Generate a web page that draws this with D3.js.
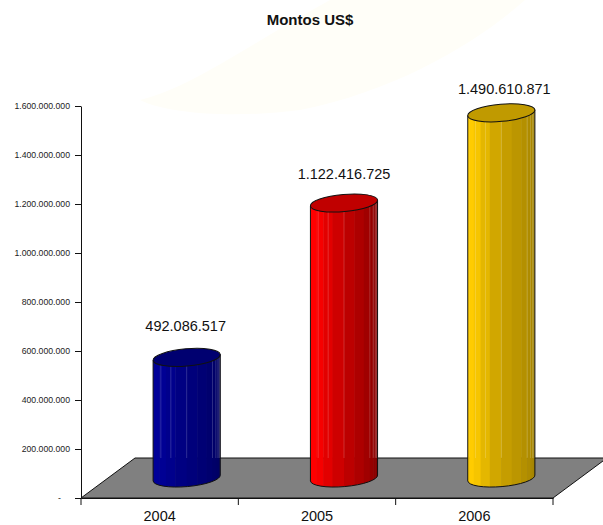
<!DOCTYPE html>
<html>
<head>
<meta charset="utf-8">
<script src="https://cdn.jsdelivr.net/npm/d3@7"></script>
<style>
html, body { margin: 0; padding: 0; background: #fff; }
svg { display: block; }
text { font-family: "Liberation Sans", Arial, sans-serif; fill: #111; }
</style>
</head>
<body>
<div id="chart-area"></div>
<script>
// data
var years = ["2004", "2005", "2006"];
var montos = [492086517, 1122416725, 1490610871];
var yTicks = [0, 200000000, 400000000, 600000000, 800000000, 1000000000, 1200000000, 1400000000, 1600000000];

// left, middle and right shade of the cylinder, then the lid
var bodyColors = [
    ["#000098", "#000080", "#00005c"],
    ["#ff0000", "#c80000", "#780000"],
    ["#ffcc00", "#cca300", "#9c7d00"]
];
var lidColors = ["#000070", "#c00000", "#c09a00"];
var labelLift = [51, 49, 44];
var labelShift = [-1, 0, 3];
// facet edges, in degrees around the front of the cylinder
var facetAngles = [-90, -72, -55, -38, -20, 0, 18, 36, 50, 60, 68, 75, 81, 86, 90];
var seamAngles = [-50, -28, 0, 50, 60, 68, 75, 81];

var width = 603, height = 525;
var margin = { left: 81, right: 50, top: 106, bottom: 27 };
var innerH = height - margin.top - margin.bottom;
var depthX = 54, depthY = 40, frontX = 27, frontY = 20;
var rx = 33.7, ry = 8.6, tilt = -5;

var svg = d3.select("#chart-area")
    .append("svg")
    .attr("width", width)
    .attr("height", height);

// faint cream smear behind the chart
svg.append("path")
    .attr("d", "M140,100 C190,88 240,50 330,0 L525,0 C480,40 400,90 300,110 C240,118 170,115 140,100 Z")
    .attr("fill", "#fffef8");

svg.append("text")
    .attr("x", 310)
    .attr("y", 25)
    .attr("text-anchor", "middle")
    .attr("font-size", "15px")
    .attr("font-weight", "bold")
    .text("Montos US$");

var g = svg.append("g")
    .attr("transform", "translate(" + margin.left + "," + margin.top + ")");

var y = d3.scaleLinear().domain([0, 1600000000]).range([innerH, 0]);
var x = d3.scaleBand().domain(years).range([0, 472]);
var locale = d3.formatLocale({ decimal: ",", thousands: ".", grouping: [3], currency: ["", ""] });
var fmt = locale.format(",d");

// floor
g.append("path")
    .attr("d", d3.line()([
        [0, innerH],
        [472, innerH],
        [472 + depthX, innerH - depthY],
        [depthX, innerH - depthY]
    ]) + "Z")
    .attr("fill", "#808080")
    .attr("stroke", "#111")
    .attr("stroke-width", 1);

// axes
var yAxis = g.append("g")
    .call(d3.axisLeft(y).tickValues(yTicks).tickSize(6).tickSizeOuter(0)
        .tickFormat(function(d) { return d === 0 ? "-" : fmt(d); }));
yAxis.selectAll("text")
    .attr("font-size", "8.7px")
    .style("fill", "#222")
    .attr("dx", function(d) { return d === 0 ? "-11px" : "-2px"; });
yAxis.selectAll("line, path").attr("stroke", "#111");
yAxis.attr("font-family", null);

var xAxis = g.append("g")
    .attr("transform", "translate(0," + innerH + ")")
    .call(d3.axisBottom(x).tickSize(0).tickPadding(13));
xAxis.selectAll("text").attr("font-size", "14.5px");
xAxis.select("path").attr("stroke", "#111");
xAxis.attr("font-family", null);

g.append("g")
    .attr("transform", "translate(0," + innerH + ")")
    .selectAll("line")
    .data(d3.range(years.length + 1))
    .join("line")
    .attr("x1", function(i) { return i * x.step(); })
    .attr("x2", function(i) { return i * x.step(); })
    .attr("y1", 0)
    .attr("y2", 7)
    .attr("stroke", "#111");

// cylinders
var cos = Math.cos(tilt * Math.PI / 180), sin = Math.sin(tilt * Math.PI / 180);

years.forEach(function(year, i) {
    var cx = x(year) + x.bandwidth() / 2 + frontX;
    var top = y(montos[i]) - frontY;
    var bottom = y(0) - frontY;
    var dx = rx * cos, dy = rx * sin;

    var outline = "M" + (cx - dx) + "," + (top - dy)
        + "L" + (cx - dx) + "," + (bottom - dy)
        + "A" + rx + "," + ry + " " + tilt + " 0 0 " + (cx + dx) + "," + (bottom + dy)
        + "L" + (cx + dx) + "," + (top + dy) + "Z";

    var clipId = "body-" + year;
    g.append("clipPath").attr("id", clipId).append("path").attr("d", outline);

    var bar = g.append("g");
    var body = bar.append("g").attr("clip-path", "url(#" + clipId + ")");
    var edge = function(a) { return cx + rx * Math.sin(a * Math.PI / 180); };
    var shade = d3.scaleLinear()
        .domain([-55, -5, 90])
        .range(bodyColors[i])
        .interpolate(d3.interpolateRgb)
        .clamp(true);

    body.selectAll("rect")
        .data(d3.pairs(facetAngles))
        .join("rect")
        .attr("x", function(d) { return edge(d[0]); })
        .attr("width", function(d) { return edge(d[1]) - edge(d[0]) + 0.5; })
        .attr("y", top - 20)
        .attr("height", bottom - top + 40)
        .attr("fill", function(d) { return shade((d[0] + d[1]) / 2); });

    body.selectAll("line")
        .data(seamAngles)
        .join("line")
        .attr("x1", edge)
        .attr("x2", edge)
        .attr("y1", top)
        .attr("y2", y(0) - depthY)
        .attr("stroke", "#fff")
        .attr("stroke-opacity", 0.18);

    bar.append("path")
        .attr("d", outline)
        .attr("fill", "none")
        .attr("stroke", "#111")
        .attr("stroke-width", 1);

    bar.append("ellipse")
        .attr("cx", cx)
        .attr("cy", top)
        .attr("rx", rx)
        .attr("ry", ry)
        .attr("transform", "rotate(" + tilt + " " + cx + " " + top + ")")
        .attr("fill", lidColors[i])
        .attr("stroke", "#111")
        .attr("stroke-width", 1);

    g.append("text")
        .attr("x", cx + labelShift[i])
        .attr("y", y(montos[i]) - labelLift[i] + 5)
        .attr("text-anchor", "middle")
        .attr("font-size", "14.5px")
        .text(fmt(montos[i]));
});
</script>
</body>
</html>
